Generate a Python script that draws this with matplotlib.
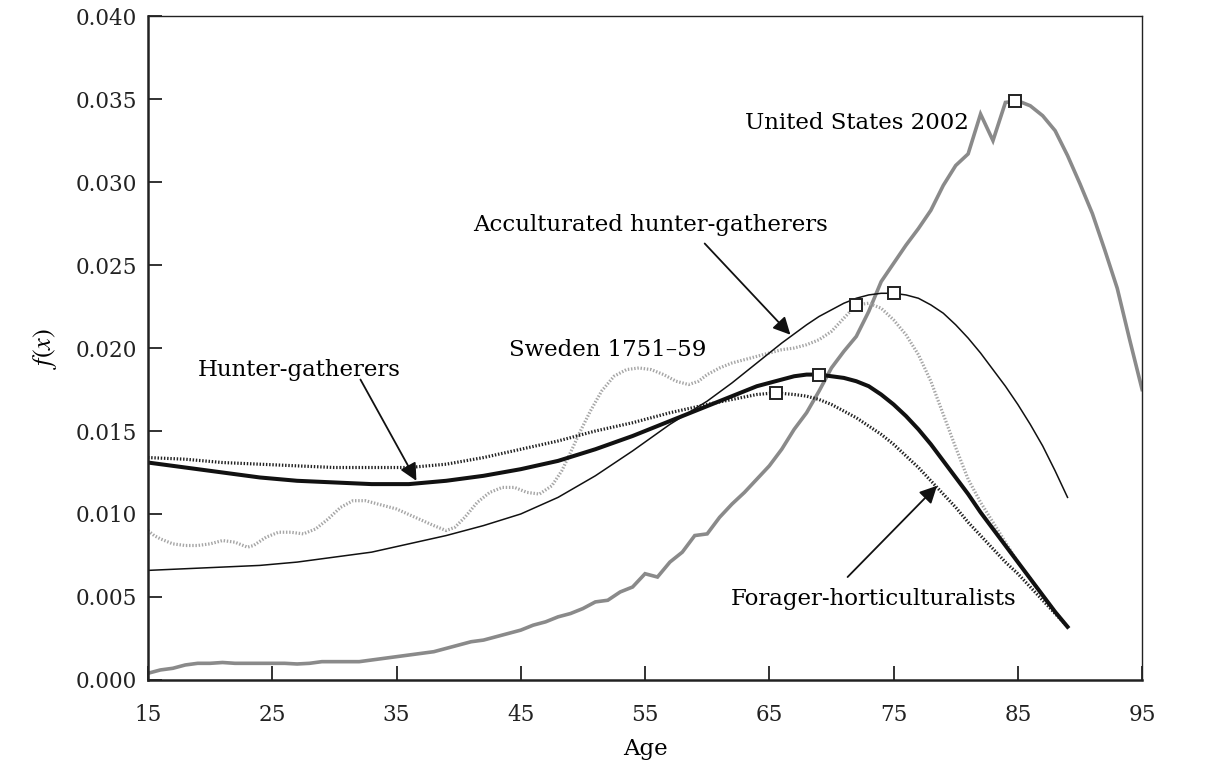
import matplotlib
matplotlib.use("Agg")
import matplotlib.pyplot as plt

plt.rcParams['font.family'] = ['DejaVu Serif']
plt.rcParams['mathtext.fontset'] = 'stix'

# United States 2002 (values at single years of age)
us_age = list(range(15, 96))
us_fx = [0.0004, 0.0006, 0.0007, 0.0009, 0.0010, 0.0010, 0.00105, 0.0010, 0.0010, 0.0010,
         0.0010, 0.0010, 0.00096, 0.0010, 0.0011, 0.0011, 0.0011, 0.0011, 0.0012, 0.0013,
         0.0014, 0.0015, 0.0016, 0.0017, 0.0019, 0.0021, 0.0023, 0.0024, 0.0026, 0.0028,
         0.0030, 0.0033, 0.0035, 0.0038, 0.0040, 0.0043, 0.0047, 0.0048, 0.0053, 0.0056,
         0.0064, 0.0062, 0.0071, 0.0077, 0.0087, 0.0088, 0.0098, 0.0106, 0.0113, 0.0121,
         0.0129, 0.0139, 0.0151, 0.0161, 0.0174, 0.0188, 0.0198, 0.0207, 0.0222, 0.0240,
         0.0251, 0.0262, 0.0272, 0.0283, 0.0298, 0.0310, 0.0317, 0.0341, 0.0325, 0.0348,
         0.0349, 0.0346, 0.0340, 0.0331, 0.0316, 0.0299, 0.0281, 0.0259, 0.0236, 0.0205,
         0.0175]

# Sweden 1751-59
sw_age = [15, 15.5, 16, 17, 18, 19, 20, 21, 22, 23, 23.5, 24.5, 25.5, 26.5, 27.5, 28.5,
          29.5, 30.5, 31.5, 32.5, 33.5, 35, 36.5, 38, 39, 39.7, 40.5, 41.5, 42.5, 43.5,
          44.5, 45.5, 46.5, 47.5, 48.3, 49, 49.8, 50.6, 51.5, 52.5, 53.5, 54.5, 55.5, 56.5,
          57.5, 58.5, 59.3, 60, 61, 62, 63, 64, 65, 66, 67, 68, 69, 70, 71, 72, 73, 74, 75,
          76, 77, 78, 79, 80, 81, 82, 83, 84, 85, 86, 87, 88, 89]
sw_fx = [0.0090, 0.0087, 0.0085, 0.0082, 0.0081, 0.0081, 0.0082, 0.0084, 0.0083, 0.0080,
         0.0081, 0.0086, 0.0089, 0.0089, 0.0088, 0.0091, 0.0097, 0.0104, 0.0108, 0.0108,
         0.0106, 0.0103, 0.0098, 0.0093, 0.0090, 0.0092, 0.0098, 0.0107, 0.0113, 0.0116,
         0.0116, 0.0113, 0.0112, 0.0117, 0.0126, 0.0137, 0.0150, 0.0162, 0.0174, 0.0183,
         0.0187, 0.0188, 0.0187, 0.0184, 0.0180, 0.0178, 0.0180, 0.0184, 0.0188, 0.0191,
         0.0193, 0.0195, 0.0197, 0.0199, 0.0200, 0.0202, 0.0205, 0.0210, 0.0218, 0.0226,
         0.0227, 0.0224, 0.0217, 0.0208, 0.0196, 0.0180, 0.0160, 0.0140, 0.0121, 0.0107,
         0.0095, 0.0083, 0.0071, 0.0061, 0.0051, 0.0041, 0.0032]

# Hunter-gatherers
hg_age = [15, 18, 21, 24, 27, 30, 33, 36, 39, 42, 45, 48, 51, 54, 57, 60, 62, 64, 66, 67,
          68, 69, 70, 71, 72, 73, 74, 75, 76, 77, 78, 79, 80, 81, 82, 83, 84, 85, 86, 87,
          88, 89]
hg_fx = [0.0131, 0.0128, 0.0125, 0.0122, 0.0120, 0.0119, 0.0118, 0.0118, 0.0120, 0.0123,
         0.0127, 0.0132, 0.0139, 0.0147, 0.0156, 0.0165, 0.0171, 0.0177, 0.0181, 0.0183,
         0.0184, 0.0184, 0.0183, 0.0182, 0.0180, 0.0177, 0.0172, 0.0166, 0.0159, 0.0151,
         0.0142, 0.0132, 0.0122, 0.0112, 0.0101, 0.0091, 0.0081, 0.0071, 0.0061, 0.0051,
         0.0041, 0.0032]

# Forager-horticulturalists
fh_age = [15, 18, 21, 24, 27, 30, 33, 36, 39, 42, 45, 48, 51, 54, 57, 60, 62, 64, 65.5,
          67, 68, 69, 70, 71, 72, 73, 74, 75, 76, 77, 78, 79, 80, 81, 82, 83, 84, 85, 86,
          87, 88, 89]
fh_fx = [0.0134, 0.0133, 0.0131, 0.0130, 0.0129, 0.0128, 0.0128, 0.0128, 0.0130, 0.0134,
         0.0139, 0.0144, 0.0150, 0.0155, 0.0161, 0.0166, 0.0169, 0.0172, 0.0173, 0.0172,
         0.0171, 0.0169, 0.0166, 0.0162, 0.0158, 0.0153, 0.0148, 0.0142, 0.0135, 0.0128,
         0.0120, 0.0112, 0.0104, 0.0095, 0.0087, 0.0079, 0.0071, 0.0064, 0.0056, 0.0048,
         0.0040, 0.0032]

# Acculturated hunter-gatherers
ac_age = [15, 18, 21, 24, 27, 30, 33, 36, 39, 42, 45, 48, 51, 54, 57, 60, 62, 64, 66, 68,
          69, 70, 71, 72, 73, 74, 75, 76, 77, 78, 79, 80, 81, 82, 83, 84, 85, 86, 87, 88,
          89]
ac_fx = [0.0066, 0.0067, 0.0068, 0.0069, 0.0071, 0.0074, 0.0077, 0.0082, 0.0087, 0.0093,
         0.0100, 0.0110, 0.0123, 0.0138, 0.0154, 0.0168, 0.0179, 0.0191, 0.0203, 0.0214,
         0.0219, 0.0223, 0.0227, 0.0230, 0.0232, 0.0233, 0.0233, 0.0232, 0.0230, 0.0226,
         0.0221, 0.0214, 0.0206, 0.0197, 0.0187, 0.0177, 0.0166, 0.0154, 0.0141, 0.0126,
         0.0110]

# modal ages marked with squares
mode_age = [84.8, 72, 69, 65.5, 75]
mode_fx = [0.0349, 0.0226, 0.0184, 0.0173, 0.0233]

fig = plt.figure(figsize=(12.05, 7.70), dpi=100)
ax = fig.add_axes([0.1228, 0.117, 0.825, 0.862])

dots = (0, (0.45, 0.55))
ax.plot(us_age, us_fx, color='#8a8a8a', lw=2.6, solid_joinstyle='miter')
ax.plot(sw_age, sw_fx, color='#a6a6a6', lw=2.3, linestyle=dots)
ax.plot(ac_age, ac_fx, color='#111111', lw=1.1)
ax.plot(fh_age, fh_fx, color='#222222', lw=2.3, linestyle=dots)
ax.plot(hg_age, hg_fx, color='#111111', lw=2.9)
ax.plot(mode_age, mode_fx, linestyle='none', marker='s', ms=9, mfc='white',
        mec='#222222', mew=1.4, zorder=5)

ax.set_xlim(15, 95)
ax.set_ylim(0, 0.040)
ax.set_xticks(range(15, 96, 10))
ax.set_yticks([0.000, 0.005, 0.010, 0.015, 0.020, 0.025, 0.030, 0.035, 0.040])
ax.set_yticklabels(['0.000', '0.005', '0.010', '0.015', '0.020', '0.025', '0.030',
                    '0.035', '0.040'])
ax.tick_params(direction='in', length=10, width=1.3, labelsize=15.5, pad=8,
               colors='#222222')
ax.tick_params(axis='x', pad=17)
for s in ['left', 'bottom']:
    ax.spines[s].set_linewidth(1.8)
for s in ['top', 'right']:
    ax.spines[s].set_linewidth(1.0)
for s in ax.spines.values():
    s.set_color('#222222')

ax.set_xlabel('Age', fontsize=16.5, labelpad=9)
ax.set_ylabel(r'$f(x)$', fontsize=19, labelpad=12)

arrow = dict(arrowstyle='-|>', mutation_scale=26, lw=1.3, color='#111111',
             shrinkA=0, shrinkB=0)
tkw = dict(fontsize=16.5, ha='center', va='center')
ax.text(72.06, 0.03355, 'United States 2002', **tkw)
ax.text(55.4, 0.0274, 'Acculturated hunter-gatherers', **tkw)
ax.annotate('', xy=(66.7, 0.0208), xytext=(59.8, 0.0263), arrowprops=arrow)
ax.text(52.0, 0.0199, 'Sweden 1751\u201359', **tkw)
ax.text(27.2, 0.0187, 'Hunter-gatherers', **tkw)
ax.annotate('', xy=(36.6, 0.0120), xytext=(32.1, 0.0181), arrowprops=arrow)
ax.text(73.35, 0.0049, 'Forager-horticulturalists', **tkw)
ax.annotate('', xy=(78.5, 0.0117), xytext=(71.3, 0.0062), arrowprops=arrow)

fig.savefig('out.png', dpi=100)
